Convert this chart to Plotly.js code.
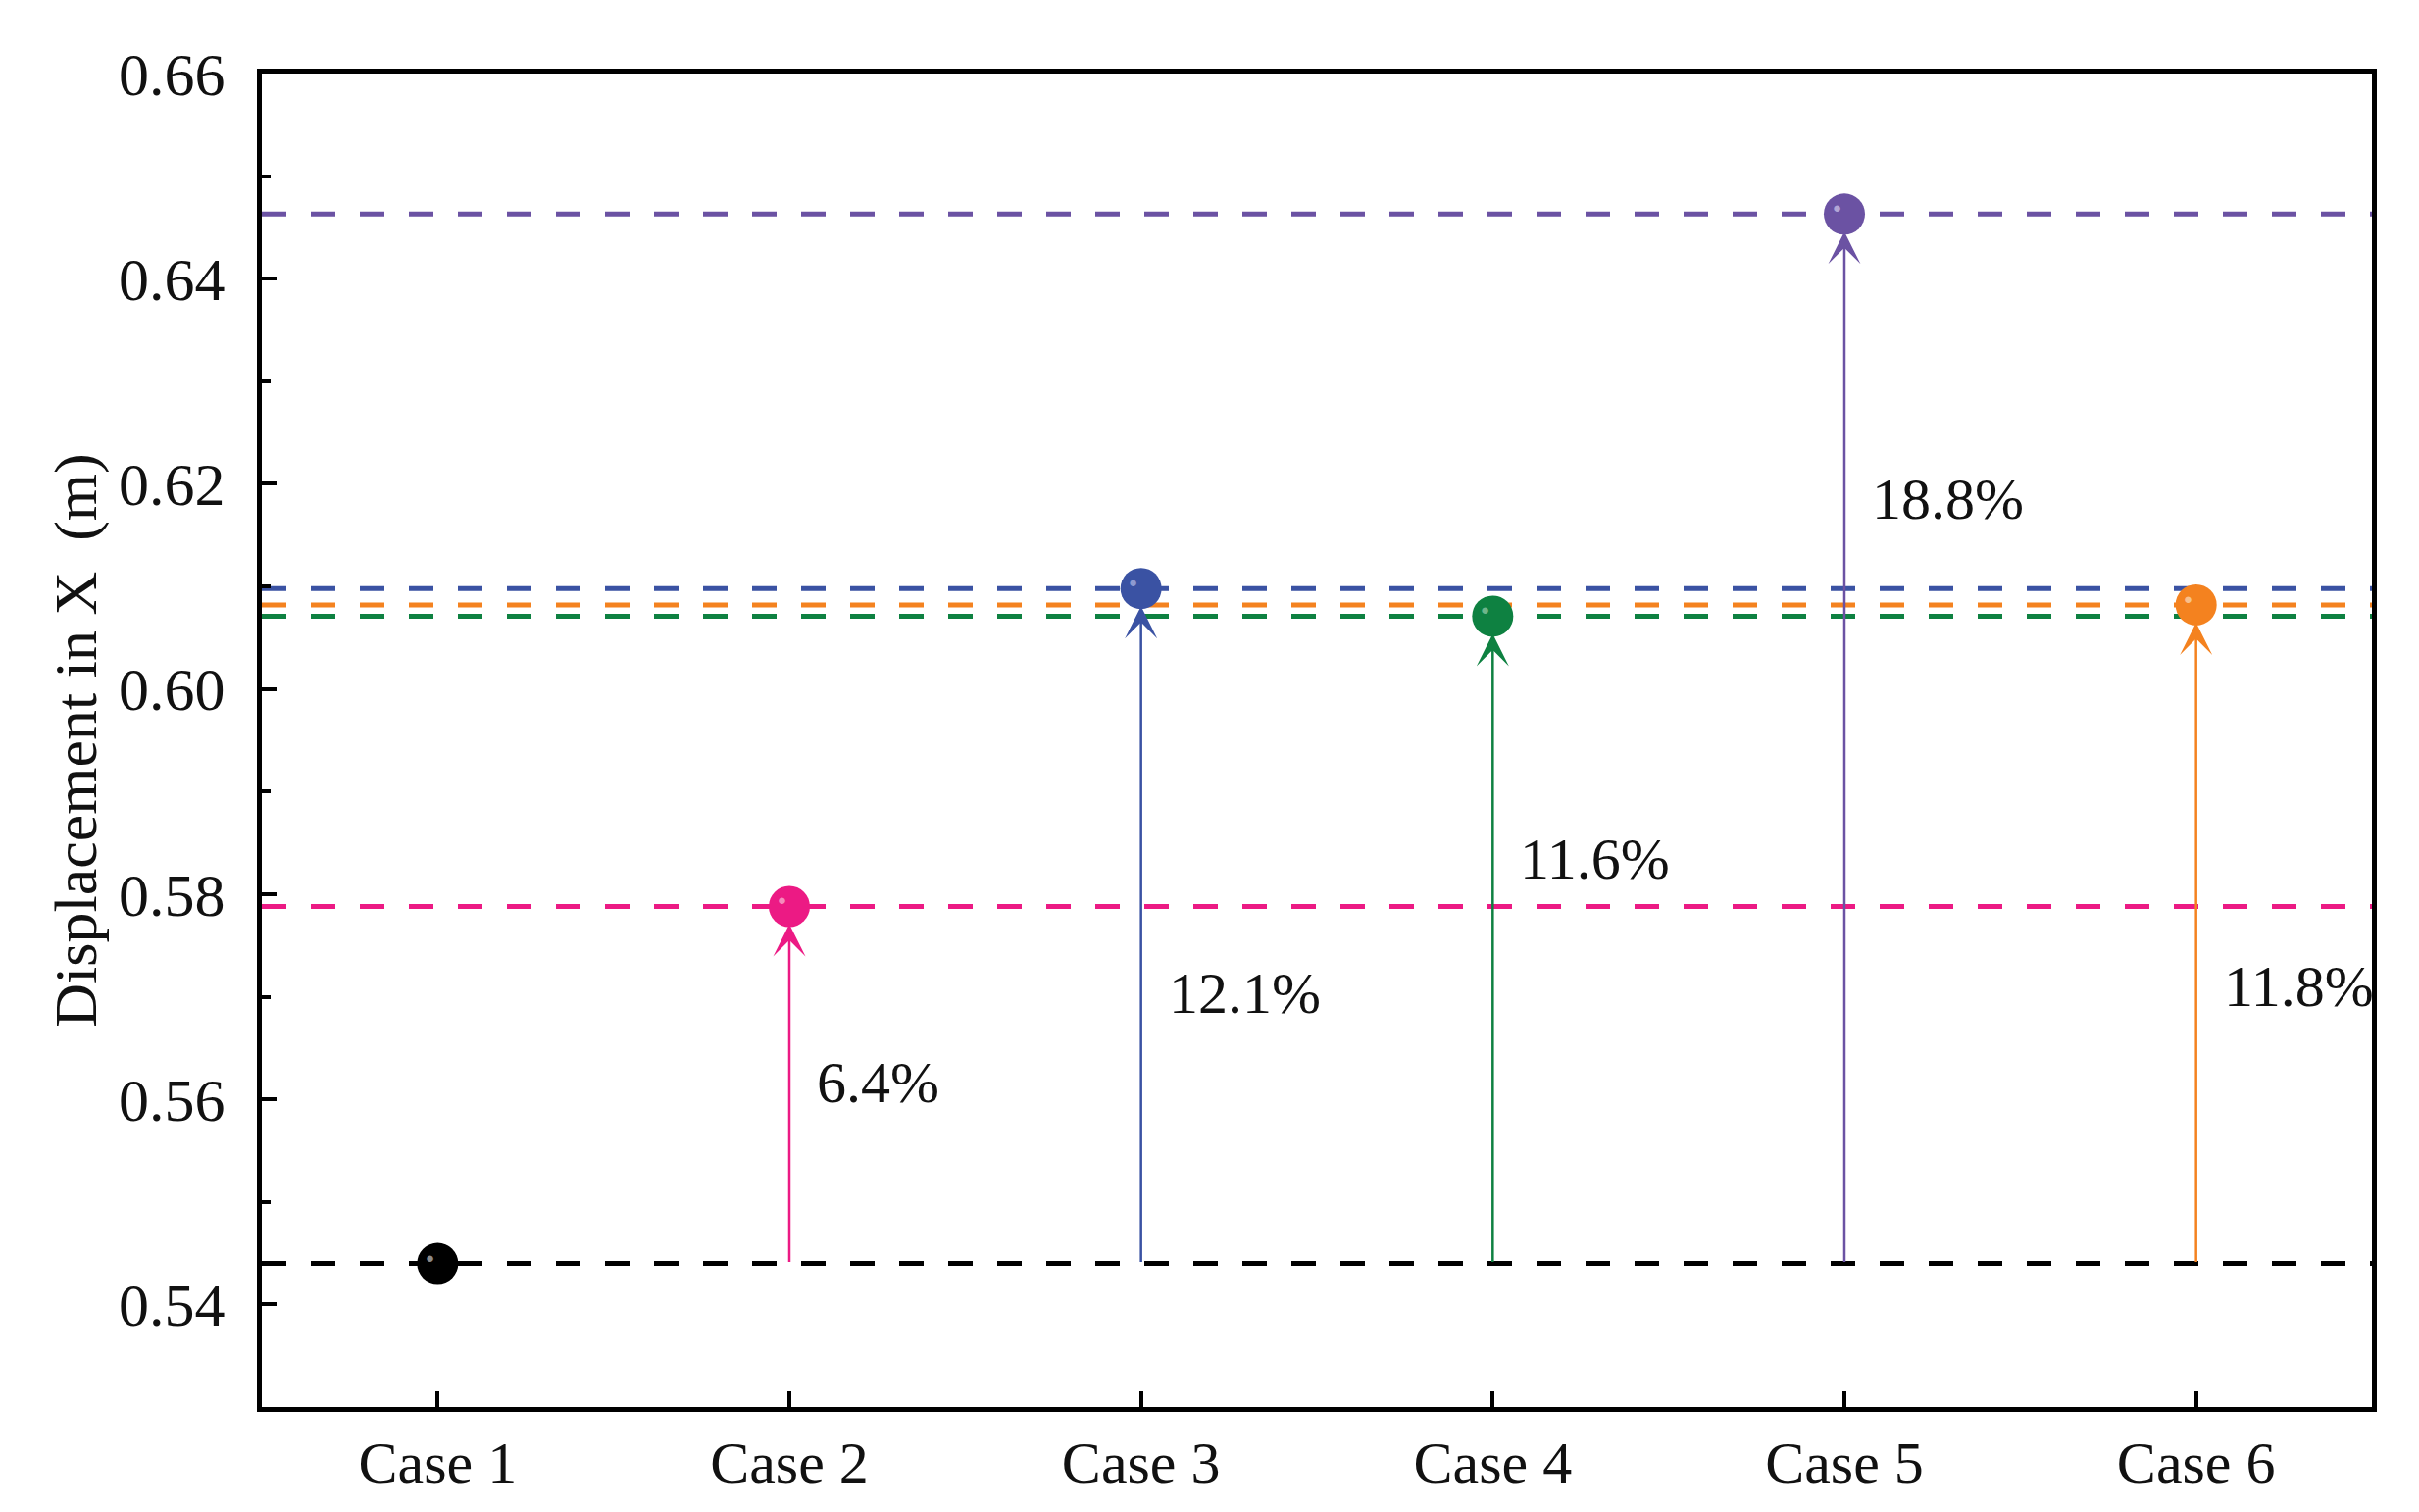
<!DOCTYPE html>
<html>
<head>
<meta charset="utf-8">
<script src="https://cdn.plot.ly/plotly-3.0.1.min.js"></script>
<style>html,body{margin:0;padding:0;background:#fff}</style>
</head>
<body>
<div id="chart" style="width:2467px;height:1542px"></div>
<script>
// ===============================
// DATA
// ===============================
const cases = ['Case 1', 'Case 2', 'Case 3', 'Case 4', 'Case 5', 'Case 6'];
const dispX = [0.544, 0.5788, 0.6098, 0.6071, 0.6463, 0.6082];
const pctLabels = ['', '6.4%', '12.1%', '11.6%', '18.8%', '11.8%'];
const pctLabelY = [null, 0.5616, 0.5703, 0.5834, 0.6185, 0.5710];
const yTicks = [0.54, 0.56, 0.58, 0.60, 0.62, 0.64, 0.66];

const colors = ['#000000', '#ec1a84', '#3a52a3', '#0e8141', '#6b52a3', '#f4821f'];
const shine = ['#8a8a8a', '#f48cbd', '#8d9ad0', '#6fb58a', '#b3a6d6', '#f8c08c'];
const serif = 'Liberation Serif, Times New Roman, serif';

// ===============================
// SHAPES: dashed reference lines
// ===============================
let shapes = dispX.map((v, i) => ({
    type: 'line',
    xref: 'paper', x0: 0, x1: 1,
    yref: 'y', y0: v, y1: v,
    layer: 'below',
    line: { color: colors[i], width: 5, dash: '25px,25px' }
}));

// ===============================
// ANNOTATIONS: arrows, labels, highlights
// ===============================
let annotations = [];

for (let i = 1; i < cases.length; i++) {
    annotations.push({
        x: cases[i], y: dispX[i], xref: 'x', yref: 'y',
        ax: cases[i], ay: dispX[0], axref: 'x', ayref: 'y',
        showarrow: true, text: '',
        arrowhead: 3, arrowsize: 2.2, arrowwidth: 2.5,
        arrowcolor: colors[i], standoff: 18
    });
    annotations.push({
        x: cases[i], y: pctLabelY[i], xref: 'x', yref: 'y',
        text: pctLabels[i], showarrow: false,
        xanchor: 'left', yanchor: 'middle', xshift: 26,
        font: { family: serif, size: 60, color: '#111' }
    });
}

// small shine on each ball
for (let i = 0; i < cases.length; i++) {
    annotations.push({
        x: cases[i], y: dispX[i], xref: 'x', yref: 'y',
        text: '●', showarrow: false,
        xshift: -8, yshift: 6,
        font: { size: 15, color: shine[i] }
    });
}

// ===============================
// PLOT
// ===============================
Plotly.newPlot('chart', [
{
    x: cases,
    y: dispX,
    type: 'scatter',
    mode: 'markers',
    marker: { size: 42, color: colors, line: { width: 0 } },
    hoverinfo: 'x+y'
}
], {
    width: 2467,
    height: 1542,
    margin: { l: 267, r: 48, t: 75, b: 107 },
    paper_bgcolor: '#ffffff',
    plot_bgcolor: '#ffffff',
    showlegend: false,
    font: { family: serif, color: '#111' },
    xaxis: {
        type: 'category',
        range: [-0.5, 5.5],
        showgrid: false, zeroline: false,
        showline: true, mirror: true, linecolor: '#000', linewidth: 5,
        ticks: 'inside', ticklen: 16, tickwidth: 4, tickcolor: '#000',
        ticklabelstandoff: 0,
        tickfont: { family: serif, size: 60, color: '#111' }
    },
    yaxis: {
        range: [0.53, 0.66],
        tickvals: yTicks,
        tickformat: '.2f',
        showgrid: false, zeroline: false,
        showline: true, mirror: true, linecolor: '#000', linewidth: 5,
        ticks: 'inside', ticklen: 16, tickwidth: 4, tickcolor: '#000',
        minor: { dtick: 0.01, ticks: 'inside', ticklen: 9, tickwidth: 4, tickcolor: '#000' },
        ticklabelstandoff: 20,
        tickfont: { family: serif, size: 62, color: '#111' },
        title: {
            text: 'Displacement in X  (m)',
            standoff: 4,
            font: { family: serif, size: 62, color: '#111' }
        }
    },
    shapes: shapes,
    annotations: annotations
}, {
    displayModeBar: false
});
</script>
</body>
</html>
